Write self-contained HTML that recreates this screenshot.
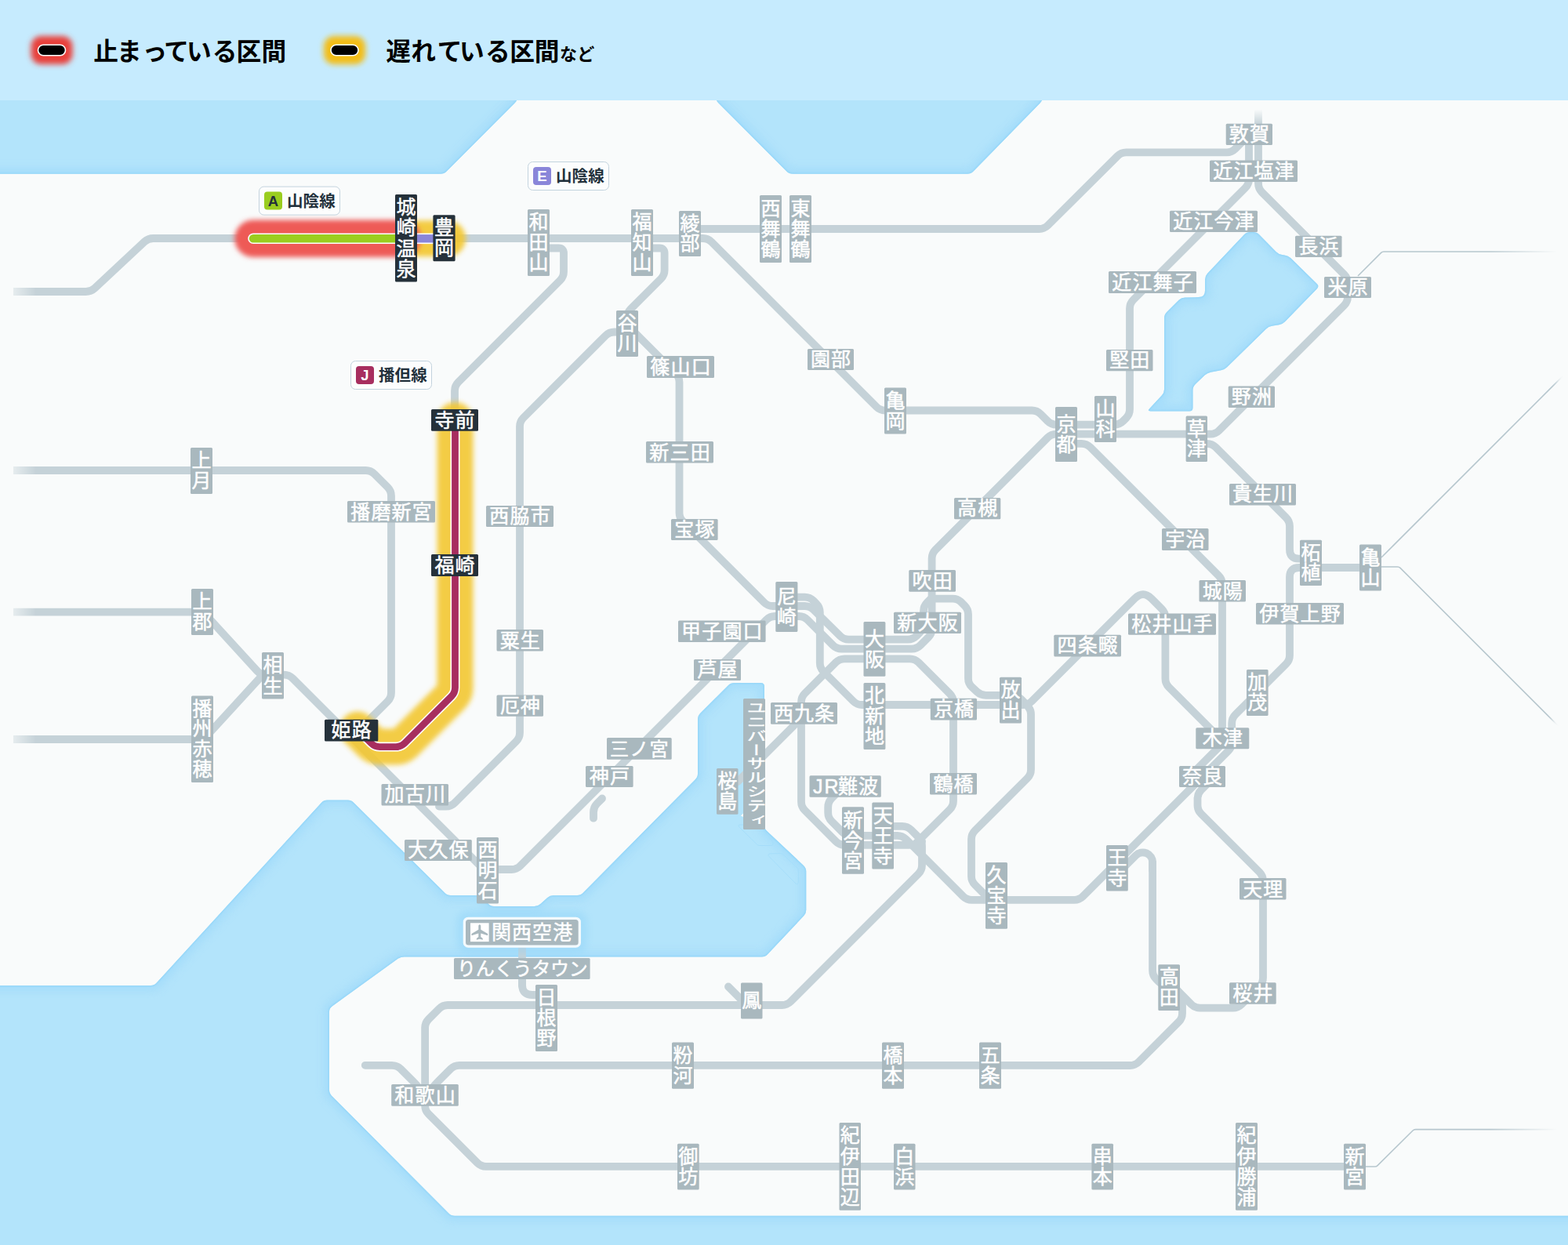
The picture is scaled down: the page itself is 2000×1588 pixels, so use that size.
<!DOCTYPE html><html><head><meta charset="utf-8"><title>map</title><style>html,body{margin:0;padding:0;background:#f9fbfb}body{width:2000px;height:1588px;overflow:hidden;font-family:"Liberation Sans",sans-serif}svg{display:block}svg text{font-family:"Liberation Sans","Noto Sans CJK JP",sans-serif}</style></head><body><svg width="2000" height="1588" viewBox="0 0 2000 1588">
<defs><filter id="b3" x="-30%" y="-50%" width="160%" height="200%"><feGaussianBlur stdDeviation="3.6"/></filter><filter id="b4" filterUnits="userSpaceOnUse" x="250" y="200" width="450" height="850"><feGaussianBlur stdDeviation="3.2"/></filter><filter id="b3s" x="-5%" y="-5%" width="110%" height="110%"><feGaussianBlur stdDeviation="2.5"/></filter><filter id="b1" x="-5%" y="-5%" width="110%" height="110%"><feGaussianBlur stdDeviation="0.8"/></filter><filter id="b5" x="-10%" y="-10%" width="120%" height="120%"><feGaussianBlur stdDeviation="5"/></filter><filter id="b8" x="-20%" y="-40%" width="140%" height="180%"><feGaussianBlur stdDeviation="7"/></filter><linearGradient id="fl" x1="0" x2="1" y1="0" y2="0"><stop offset="0" stop-color="#f9fbfb"/><stop offset="1" stop-color="#f9fbfb" stop-opacity="0"/></linearGradient><linearGradient id="fr" x1="1" x2="0" y1="0" y2="0"><stop offset="0" stop-color="#f9fbfb"/><stop offset="1" stop-color="#f9fbfb" stop-opacity="0"/></linearGradient><linearGradient id="ft" x1="0" x2="0" y1="0" y2="1"><stop offset="0" stop-color="#f9fbfb"/><stop offset="1" stop-color="#f9fbfb" stop-opacity="0"/></linearGradient><clipPath id="sc0"><path d="M-35.5 100L655.5 100Q660 100 660 104.5L660 123.5Q660 128 656.8 131.2L569.7 218.6Q566.5 221.8 562 221.8L-35.5 221.8Q-40 221.8 -40 217.3L-40 104.5Q-40 100 -35.5 100Z"/></clipPath><clipPath id="sc1"><path d="M913 123.5L913 104.5Q913 100 917.5 100L1325.5 100Q1330 100 1330 104.5L1330 123.5Q1330 128 1326.9 131.2L1241.6 218.6Q1238.5 221.8 1234 221.8L1011 221.8Q1006.5 221.8 1003.3 218.6L916.2 131.2Q913 128 913 123.5Z"/></clipPath><clipPath id="sc2"><path d="M1594.5 296L1598.5 296Q1603 296 1606.2 299.2L1627.8 321.3Q1631 324.5 1635.5 325.1L1638.5 325.4Q1643 326 1646.2 329.1L1679.8 361.9Q1683 365 1679.9 368.2L1639.1 410.3Q1636 413.5 1631.6 414.2L1622.4 415.8Q1618 416.5 1614.8 419.7L1565.2 468.3Q1562 471.5 1557.6 472.3L1544.4 474.7Q1540 475.5 1536.7 478.6L1524.8 489.9Q1521.5 493 1521.5 497.5L1521.5 520Q1521.5 524.5 1517 524.5L1467.5 524.5Q1463 524.5 1466.1 521.2L1481.9 504.3Q1485 501 1485 496.5L1485 405.5Q1485 401 1488.2 397.9L1503.8 382.6Q1507 379.5 1511.5 379.4L1528.5 379.1Q1533 379 1535 377L1535 377Q1537 375 1537 370.5L1537 356.5Q1537 352 1540.1 348.7L1586.9 299.3Q1590 296 1594.5 296Z"/></clipPath><clipPath id="sc3"><path d="M-35.5 1257L192 1257Q196.5 1257 199.5 1253.7L410 1023.8Q413 1020.5 417.5 1020.5L443.5 1020.5Q448 1020.5 451.2 1023.7L567.3 1138.8Q570.5 1142 575 1142L607.5 1142Q612 1142 615.2 1145.2L622.8 1152.8Q626 1156 630.5 1156L681.5 1156Q686 1156 689.3 1153L698.2 1145Q701.5 1142 706 1142L736 1142Q740.5 1142 743.7 1138.8L886.8 994.2Q890 991 890 986.5L890 917.5Q890 913 893.2 909.8L928.8 874.2Q932 871 936.5 871L970.5 871Q975 871 975 875.5L975 1052.5Q975 1057 978.3 1060.1L1025 1103.9Q1028.3 1107 1028.3 1111.5L1028.3 1160.5Q1028.3 1165 1025.2 1168.3L979.1 1217.2Q976 1220.5 971.5 1220.5L515.5 1220.5Q511 1220.5 507.3 1223.1L423.7 1283.4Q420 1286 420 1290.5L420 1390Q420 1394.5 423.2 1397.7L572.3 1547.5Q575.5 1550.7 580 1550.7L2035.5 1550.7Q2040 1550.7 2040 1555.2L2040 1635.5Q2040 1640 2035.5 1640L-35.5 1640Q-40 1640 -40 1635.5L-40 1261.5Q-40 1257 -35.5 1257Z"/></clipPath></defs>
<rect width="2000" height="1588" fill="#f9fbfb"/>
<g clip-path="url(#sc0)"><path d="M-35.5 100L655.5 100Q660 100 660 104.5L660 123.5Q660 128 656.8 131.2L569.7 218.6Q566.5 221.8 562 221.8L-35.5 221.8Q-40 221.8 -40 217.3L-40 104.5Q-40 100 -35.5 100Z" fill="#b3e4fb"/><path d="M-35.5 100L655.5 100Q660 100 660 104.5L660 123.5Q660 128 656.8 131.2L569.7 218.6Q566.5 221.8 562 221.8L-35.5 221.8Q-40 221.8 -40 217.3L-40 104.5Q-40 100 -35.5 100Z" fill="none" stroke="#a3dbfa" stroke-width="16" opacity="0.75" filter="url(#b5)"/><path d="M-35.5 100L655.5 100Q660 100 660 104.5L660 123.5Q660 128 656.8 131.2L569.7 218.6Q566.5 221.8 562 221.8L-35.5 221.8Q-40 221.8 -40 217.3L-40 104.5Q-40 100 -35.5 100Z" fill="none" stroke="#8fd4f8" stroke-width="2.2" filter="url(#b1)"/></g>
<g clip-path="url(#sc1)"><path d="M913 123.5L913 104.5Q913 100 917.5 100L1325.5 100Q1330 100 1330 104.5L1330 123.5Q1330 128 1326.9 131.2L1241.6 218.6Q1238.5 221.8 1234 221.8L1011 221.8Q1006.5 221.8 1003.3 218.6L916.2 131.2Q913 128 913 123.5Z" fill="#b3e4fb"/><path d="M913 123.5L913 104.5Q913 100 917.5 100L1325.5 100Q1330 100 1330 104.5L1330 123.5Q1330 128 1326.9 131.2L1241.6 218.6Q1238.5 221.8 1234 221.8L1011 221.8Q1006.5 221.8 1003.3 218.6L916.2 131.2Q913 128 913 123.5Z" fill="none" stroke="#a3dbfa" stroke-width="16" opacity="0.75" filter="url(#b5)"/><path d="M913 123.5L913 104.5Q913 100 917.5 100L1325.5 100Q1330 100 1330 104.5L1330 123.5Q1330 128 1326.9 131.2L1241.6 218.6Q1238.5 221.8 1234 221.8L1011 221.8Q1006.5 221.8 1003.3 218.6L916.2 131.2Q913 128 913 123.5Z" fill="none" stroke="#8fd4f8" stroke-width="2.2" filter="url(#b1)"/></g>
<g clip-path="url(#sc2)"><path d="M1594.5 296L1598.5 296Q1603 296 1606.2 299.2L1627.8 321.3Q1631 324.5 1635.5 325.1L1638.5 325.4Q1643 326 1646.2 329.1L1679.8 361.9Q1683 365 1679.9 368.2L1639.1 410.3Q1636 413.5 1631.6 414.2L1622.4 415.8Q1618 416.5 1614.8 419.7L1565.2 468.3Q1562 471.5 1557.6 472.3L1544.4 474.7Q1540 475.5 1536.7 478.6L1524.8 489.9Q1521.5 493 1521.5 497.5L1521.5 520Q1521.5 524.5 1517 524.5L1467.5 524.5Q1463 524.5 1466.1 521.2L1481.9 504.3Q1485 501 1485 496.5L1485 405.5Q1485 401 1488.2 397.9L1503.8 382.6Q1507 379.5 1511.5 379.4L1528.5 379.1Q1533 379 1535 377L1535 377Q1537 375 1537 370.5L1537 356.5Q1537 352 1540.1 348.7L1586.9 299.3Q1590 296 1594.5 296Z" fill="#b3e4fb"/><path d="M1594.5 296L1598.5 296Q1603 296 1606.2 299.2L1627.8 321.3Q1631 324.5 1635.5 325.1L1638.5 325.4Q1643 326 1646.2 329.1L1679.8 361.9Q1683 365 1679.9 368.2L1639.1 410.3Q1636 413.5 1631.6 414.2L1622.4 415.8Q1618 416.5 1614.8 419.7L1565.2 468.3Q1562 471.5 1557.6 472.3L1544.4 474.7Q1540 475.5 1536.7 478.6L1524.8 489.9Q1521.5 493 1521.5 497.5L1521.5 520Q1521.5 524.5 1517 524.5L1467.5 524.5Q1463 524.5 1466.1 521.2L1481.9 504.3Q1485 501 1485 496.5L1485 405.5Q1485 401 1488.2 397.9L1503.8 382.6Q1507 379.5 1511.5 379.4L1528.5 379.1Q1533 379 1535 377L1535 377Q1537 375 1537 370.5L1537 356.5Q1537 352 1540.1 348.7L1586.9 299.3Q1590 296 1594.5 296Z" fill="none" stroke="#a3dbfa" stroke-width="16" opacity="0.75" filter="url(#b5)"/><path d="M1594.5 296L1598.5 296Q1603 296 1606.2 299.2L1627.8 321.3Q1631 324.5 1635.5 325.1L1638.5 325.4Q1643 326 1646.2 329.1L1679.8 361.9Q1683 365 1679.9 368.2L1639.1 410.3Q1636 413.5 1631.6 414.2L1622.4 415.8Q1618 416.5 1614.8 419.7L1565.2 468.3Q1562 471.5 1557.6 472.3L1544.4 474.7Q1540 475.5 1536.7 478.6L1524.8 489.9Q1521.5 493 1521.5 497.5L1521.5 520Q1521.5 524.5 1517 524.5L1467.5 524.5Q1463 524.5 1466.1 521.2L1481.9 504.3Q1485 501 1485 496.5L1485 405.5Q1485 401 1488.2 397.9L1503.8 382.6Q1507 379.5 1511.5 379.4L1528.5 379.1Q1533 379 1535 377L1535 377Q1537 375 1537 370.5L1537 356.5Q1537 352 1540.1 348.7L1586.9 299.3Q1590 296 1594.5 296Z" fill="none" stroke="#8fd4f8" stroke-width="2.2" filter="url(#b1)"/></g>
<g clip-path="url(#sc3)"><path d="M-35.5 1257L192 1257Q196.5 1257 199.5 1253.7L410 1023.8Q413 1020.5 417.5 1020.5L443.5 1020.5Q448 1020.5 451.2 1023.7L567.3 1138.8Q570.5 1142 575 1142L607.5 1142Q612 1142 615.2 1145.2L622.8 1152.8Q626 1156 630.5 1156L681.5 1156Q686 1156 689.3 1153L698.2 1145Q701.5 1142 706 1142L736 1142Q740.5 1142 743.7 1138.8L886.8 994.2Q890 991 890 986.5L890 917.5Q890 913 893.2 909.8L928.8 874.2Q932 871 936.5 871L970.5 871Q975 871 975 875.5L975 1052.5Q975 1057 978.3 1060.1L1025 1103.9Q1028.3 1107 1028.3 1111.5L1028.3 1160.5Q1028.3 1165 1025.2 1168.3L979.1 1217.2Q976 1220.5 971.5 1220.5L515.5 1220.5Q511 1220.5 507.3 1223.1L423.7 1283.4Q420 1286 420 1290.5L420 1390Q420 1394.5 423.2 1397.7L572.3 1547.5Q575.5 1550.7 580 1550.7L2035.5 1550.7Q2040 1550.7 2040 1555.2L2040 1635.5Q2040 1640 2035.5 1640L-35.5 1640Q-40 1640 -40 1635.5L-40 1261.5Q-40 1257 -35.5 1257Z" fill="#b3e4fb"/><path d="M-35.5 1257L192 1257Q196.5 1257 199.5 1253.7L410 1023.8Q413 1020.5 417.5 1020.5L443.5 1020.5Q448 1020.5 451.2 1023.7L567.3 1138.8Q570.5 1142 575 1142L607.5 1142Q612 1142 615.2 1145.2L622.8 1152.8Q626 1156 630.5 1156L681.5 1156Q686 1156 689.3 1153L698.2 1145Q701.5 1142 706 1142L736 1142Q740.5 1142 743.7 1138.8L886.8 994.2Q890 991 890 986.5L890 917.5Q890 913 893.2 909.8L928.8 874.2Q932 871 936.5 871L970.5 871Q975 871 975 875.5L975 1052.5Q975 1057 978.3 1060.1L1025 1103.9Q1028.3 1107 1028.3 1111.5L1028.3 1160.5Q1028.3 1165 1025.2 1168.3L979.1 1217.2Q976 1220.5 971.5 1220.5L515.5 1220.5Q511 1220.5 507.3 1223.1L423.7 1283.4Q420 1286 420 1290.5L420 1390Q420 1394.5 423.2 1397.7L572.3 1547.5Q575.5 1550.7 580 1550.7L2035.5 1550.7Q2040 1550.7 2040 1555.2L2040 1635.5Q2040 1640 2035.5 1640L-35.5 1640Q-40 1640 -40 1635.5L-40 1261.5Q-40 1257 -35.5 1257Z" fill="none" stroke="#a3dbfa" stroke-width="16" opacity="0.75" filter="url(#b5)"/><path d="M-35.5 1257L192 1257Q196.5 1257 199.5 1253.7L410 1023.8Q413 1020.5 417.5 1020.5L443.5 1020.5Q448 1020.5 451.2 1023.7L567.3 1138.8Q570.5 1142 575 1142L607.5 1142Q612 1142 615.2 1145.2L622.8 1152.8Q626 1156 630.5 1156L681.5 1156Q686 1156 689.3 1153L698.2 1145Q701.5 1142 706 1142L736 1142Q740.5 1142 743.7 1138.8L886.8 994.2Q890 991 890 986.5L890 917.5Q890 913 893.2 909.8L928.8 874.2Q932 871 936.5 871L970.5 871Q975 871 975 875.5L975 1052.5Q975 1057 978.3 1060.1L1025 1103.9Q1028.3 1107 1028.3 1111.5L1028.3 1160.5Q1028.3 1165 1025.2 1168.3L979.1 1217.2Q976 1220.5 971.5 1220.5L515.5 1220.5Q511 1220.5 507.3 1223.1L423.7 1283.4Q420 1286 420 1290.5L420 1390Q420 1394.5 423.2 1397.7L572.3 1547.5Q575.5 1550.7 580 1550.7L2035.5 1550.7Q2040 1550.7 2040 1555.2L2040 1635.5Q2040 1640 2035.5 1640L-35.5 1640Q-40 1640 -40 1635.5L-40 1261.5Q-40 1257 -35.5 1257Z" fill="none" stroke="#8fd4f8" stroke-width="2.2" filter="url(#b1)"/></g>
<g fill="none" stroke="#a4ddfa" stroke-width="1" opacity="0.9"><path d="M944 1052L966 1052Q968 1052 969.3 1053.5L984.7 1072.5Q986 1074 986 1076L986 1076.5Q986 1078.5 984 1078.5L969 1078.5Q967 1078.5 965.6 1077.1L943.4 1055.4Q942 1054 942 1053L942 1053Q942 1052 944 1052Z"/><path d="M982 1088.9L995.5 1088.6Q997.5 1088.5 998.9 1089.9L1016.9 1107.1Q1018.3 1108.5 1018.3 1110.5L1018.5 1124Q1018.5 1126 1017.5 1127.2L1017.5 1127.2Q1016.5 1128.5 1015.1 1127.1L981.4 1092.9Q980 1091.5 980 1090.2L980 1090.2Q980 1089 982 1088.9Z"/></g>
<path d="M948.2 1037.3L948.2 1042L944.8 1040.4Z" fill="#f9fbfb"/>
<rect width="2000" height="128" fill="#c6ebfe"/>
<g fill="none" stroke="#c5d2d8" stroke-width="9.8" stroke-linecap="round" stroke-linejoin="round">
<path d="M10 372L109.5 372Q116 372 120.8 367.6L184.2 308.4Q189 304 195.5 304L330 304"/>
<path d="M570 304L896.5 304Q903 304 907.6 308.6L1117.9 518.9Q1122.5 523.5 1129 523.5L1316.2 523.5Q1322.7 523.5 1327.3 528.1L1336.2 537Q1340.8 541.6 1347.3 541.6L1421.5 541.6Q1428 541.6 1432.6 537L1436.4 533.2Q1441 528.6 1441 522.1L1441 393.5Q1441 387 1445.6 382.4L1588.4 239.6Q1593 235 1593 228.5L1593 180"/>
<path d="M880 292L1325.5 292Q1332 292 1336.6 287.4L1425.4 199Q1430 194.4 1436.5 194.4L1564.5 194.4Q1571 194.4 1575.6 189.8L1586 179.4"/>
<path d="M1605 134L1605 234.1Q1605 240.6 1609.6 245.2L1714.4 350Q1719 354.6 1719 361.1L1719 378.5Q1719 385 1714.4 389.6L1554.9 549.1Q1550.3 553.7 1543.8 553.7L1347.3 553.7Q1340.8 553.7 1336.2 558.3L1193.2 701.3Q1188.6 705.9 1188.6 712.4L1188.6 801.9Q1188.6 808.4 1184 813L1174 823Q1169.4 827.6 1162.9 827.6L1073.5 827.6Q1067 827.6 1062.4 823L1030 790.6Q1025.4 786 1018.9 786L988.5 786Q982 786 977.4 790.6L663.6 1104.4Q659 1109 652.5 1109L625 1109"/>
<path d="M690 316.5L712.5 316.5Q719 316.5 719 323L719 346.5Q719 353 714.4 357.6L584.6 487.4Q580 492 580 498.5L580 530"/>
<path d="M822 316.5L841.1 316.5Q847.6 316.5 847.6 323L847.6 344.5Q847.6 351 843 355.6L804.6 394Q800 398.6 800 405.1L800 408Q800 414.5 804.6 419.1L861.9 476.4Q866.5 481 866.5 487.5L866.5 653.9Q866.5 660.4 871.1 665L974.6 768.4Q979.2 773 985.7 773L1026.5 773Q1033 773 1037.6 777.6L1071.4 811Q1076 815.6 1082.5 815.6L1158 815.6Q1164.5 815.6 1169.1 811L1173.4 806.6Q1178 802 1178 795.5L1178 779.5Q1178 773 1182.6 768.4L1188.6 762.4"/>
<path d="M800 423.5L783.5 423.5Q777 423.5 772.4 428.1L667.6 532.9Q663 537.5 663 544L663 934.5Q663 941 658.4 945.6L580 1024Q575.4 1028.6 568.9 1028.6L560 1028.6"/>
<path d="M10 600L466.5 600Q473 600 477.6 604.6L494.4 621.4Q499 626 499 632.5L499 883.5Q499 890 494.4 894.6L465 924"/>
<path d="M10 780.7L252.8 780.7Q259.3 780.7 263.7 785.5L328.1 855.9Q332.5 860.7 339 860.7L362.2 860.7Q368.7 860.7 373.3 865.3L612.4 1104.4Q617 1109 623.5 1109L630 1109"/>
<path d="M10 943L253.2 943Q259.7 943 264.1 938.2L330.1 866.3Q334.5 861.5 339.8 861.2L345 861"/>
<path d="M1010 761.7L1026.5 761.7Q1033 761.7 1037.6 766.3L1041.2 769.9Q1045.8 774.5 1045.8 781L1045.8 845.5Q1045.8 852 1050.4 856.6L1088.4 894.4Q1093 899 1099.5 899L1305 899Q1311.5 899 1316.1 894.4L1447.4 763.4Q1458 752.8 1468.6 763.4L1481.8 776.6Q1486.4 781.2 1486.4 787.7L1486.4 865.5Q1486.4 872 1491 876.6L1546 931.6"/>
<path d="M1188.6 763.7L1215.1 763.7Q1221.6 763.7 1226.2 768.3L1230.4 772.4Q1235 777 1235 783.5L1235 865.5Q1235 872 1239.8 876.4L1246.2 882.4Q1251 886.8 1257.5 886.8L1291 886.8Q1297.5 886.8 1302.1 891.4L1303.9 893.2Q1308.5 897.8 1311.8 901.9L1311.9 902.1Q1315 906 1315 911L1315 981.5Q1315 988 1310.4 992.6L1243.6 1059.4Q1239 1064 1239 1070.5L1239 1117.5Q1239 1124 1243.6 1128.6L1262.8 1147.8"/>
<path d="M1176 1073L1171 1075.4Q1166 1077.8 1159.5 1077.8L1077.3 1077.8Q1070.8 1077.8 1066.2 1073.2L1026.6 1033.6Q1022 1029 1022 1022.5L1022 895.5Q1022 889 1026.6 884.4L1066.1 844.9Q1070.7 840.3 1077.2 840.3L1160.5 840.3Q1167 840.3 1171.6 844.9L1211.4 884.7Q1216 889.3 1216 895.8L1216 1021.5Q1216 1028 1211.4 1032.6L1166.2 1077.8"/>
<path d="M1022 905L1022 910.5Q1022 916 1017.4 920.6L941 997"/>
<path d="M1066 1013L1060.7 1018.4Q1056.2 1023 1056.2 1029.5L1056.2 1036.5Q1056.2 1043 1060.8 1047.6L1074.4 1061.2Q1079 1065.8 1085.5 1065.8L1144.5 1065.8Q1151 1065.8 1155.6 1070.4L1228.4 1143.2Q1233 1147.8 1239.5 1147.8L1370.2 1147.8Q1376.7 1147.8 1381.3 1143.2L1566.6 957.9Q1571.2 953.3 1571.2 946.8L1571.2 922.5Q1571.2 916 1575.8 911.4L1640.4 846.9Q1645 842.3 1645 835.8L1645 736Q1645 724 1657 724L1740 724"/>
<path d="M1135 1053.8L1150.9 1053.8Q1157.4 1053.8 1162 1058.4L1171.4 1067.8Q1176 1072.4 1176 1078.9L1176 1103.5Q1176 1110 1171.4 1114.6L1008.6 1277.4Q1004 1282 997.5 1282L571.2 1282Q564.7 1282 560.1 1286.6L546.7 1300Q542.1 1304.6 542.1 1311.1L542.1 1409.9Q542.1 1416.4 546.7 1421L608.9 1483.2Q613.5 1487.8 620 1487.8L1720 1487.8"/>
<path d="M1360 565.8L1379.5 565.8Q1386 565.8 1390.6 570.4L1554.4 734.2Q1559 738.8 1559 745.3L1559 942.1Q1559 948.6 1554.4 953.2L1522 985.6"/>
<path d="M1530 565.8L1539.5 565.8Q1546 565.8 1550.6 570.4L1640.4 660.2Q1645 664.8 1645 671.3L1645 700.7Q1645 712.7 1656.5 712.7L1668 712.7"/>
<path d="M1546 993.7L1532.1 1007.6Q1527.5 1012.2 1527.5 1018.7L1527.5 1027Q1527.5 1033.5 1532.1 1038.1L1606.4 1112.4Q1611 1117 1611 1123.5L1611 1247.2Q1611 1253.7 1606.4 1258.3L1583.6 1281.1Q1579 1285.7 1572.5 1285.7L1530.7 1285.7Q1524.2 1285.7 1519.6 1281.1L1500.2 1261.7Q1495.6 1257.1 1489.3 1257.1L1489.3 1257.1Q1483 1257.1 1478.4 1252.5L1474.7 1248.8Q1470.1 1244.2 1470.1 1237.7L1470.1 1100"/>
<path d="M1495 1256.5L1501.5 1263Q1508 1269.5 1508 1281.5L1508 1292.4Q1508 1298.9 1503.4 1303.5L1452.5 1354.4Q1447.9 1359 1441.4 1359L585.9 1358.8Q579.4 1358.8 574.8 1363.4L559.8 1378.4Q555.2 1383 552.6 1386.5L550 1390"/>
<path d="M465.8 1358.8L500 1358.8Q506.5 1358.8 511.1 1363.4L526.1 1378.4Q530.7 1383 533.4 1386.5L536 1390"/>
<path d="M666 1200L666 1257"/>
<path d="M768 1018.5L761.6 1024.9Q757 1029.5 757 1036L757 1043.7"/>
<path d="M929 1258.5L950 1279.5"/>
<path d="M1425 1114.8L1448.7 1091.1A12.5 12.5 0 0 1 1470.1 1100L1470.1 1110"/>
<path d="M666 1249L666 1256Q666 1269 679 1269L690 1269"/>
</g>
<g fill="none" stroke="#b7c7ce" stroke-width="1.6">
<path d="M1732 352L1761.6 322.4Q1763 321 1765 321L1990 321"/>
<path d="M1762 711L2005 468"/>
<path d="M1760 723L1782.6 723Q1784.6 723 1786 724.4L1996 934.4"/>
<path d="M1742 1488L1753.7 1488Q1755.7 1488 1757.1 1486.6L1802.1 1442Q1803.5 1440.6 1805.5 1440.6L1990 1440.6"/>
</g>
<rect x="0" y="365.0" width="46" height="14" fill="url(#fl)"/>
<rect x="0" y="365.0" width="17" height="14" fill="#f9fbfb"/>
<rect x="0" y="593.0" width="46" height="14" fill="url(#fl)"/>
<rect x="0" y="593.0" width="17" height="14" fill="#f9fbfb"/>
<rect x="0" y="773.7" width="46" height="14" fill="url(#fl)"/>
<rect x="0" y="773.7" width="17" height="14" fill="#f9fbfb"/>
<rect x="0" y="936.0" width="46" height="14" fill="url(#fl)"/>
<rect x="0" y="936.0" width="17" height="14" fill="#f9fbfb"/>
<rect x="1597" y="128" width="16" height="12" fill="#f9fbfb"/><rect x="1597" y="139.5" width="16" height="19" fill="url(#ft)"/>
<rect x="1900" y="318.0" width="86" height="6" fill="url(#fr)"/><rect x="1985" y="318.0" width="15" height="6" fill="#f9fbfb"/>
<rect x="1900" y="1437.6" width="86" height="6" fill="url(#fr)"/><rect x="1985" y="1437.6" width="15" height="6" fill="#f9fbfb"/>
<circle cx="1996" cy="934" r="22" fill="#f9fbfb" filter="url(#b5)"/>
<circle cx="2000" cy="470" r="22" fill="#f9fbfb" filter="url(#b5)"/>
<g fill="none" stroke-linecap="round" stroke-linejoin="round">
<path d="M534 304.3L571 304.3" stroke="#f3c732" stroke-width="46" opacity="0.92" filter="url(#b4)"/>
<path d="M323 304.3L513 304.3" stroke="#ee5a56" stroke-width="47.5" filter="url(#b4)"/>
<path d="M580.5 536L580.5 877.1Q580.5 883.6 575.9 888.2L516.1 948Q511.5 952.6 505 952.6L484.5 952.6Q478 952.6 473.4 948L456 930.6" stroke="#f3c732" stroke-width="46" opacity="0.9" filter="url(#b4)"/>
</g>
<g fill="none" stroke-linecap="round" stroke-linejoin="round">
<path d="M323 304.3L520 304.3" stroke="#fff" stroke-width="13.6"/><path d="M323 304.3L520 304.3" stroke="#9acd1f" stroke-width="10.4"/>
<path d="M530 304.3L556 304.3" stroke="#fff" stroke-width="13.6" stroke-linecap="butt"/><path d="M530 304.3L556 304.3" stroke="#8a86d9" stroke-width="10.4" stroke-linecap="butt"/>
<path d="M580.5 536L580.5 877.1Q580.5 883.6 575.9 888.2L516.1 948Q511.5 952.6 505 952.6L484.5 952.6Q478 952.6 473.4 948L456 930.6" stroke="#fff" stroke-width="12"/><path d="M580.5 536L580.5 877.1Q580.5 883.6 575.9 888.2L516.1 948Q511.5 952.6 505 952.6L484.5 952.6Q478 952.6 473.4 948L456 930.6" stroke="#a72e5f" stroke-width="8.8"/>
</g>
<rect x="673.0" y="267.0" width="28.0" height="85.0" rx="1.5" fill="#a9b8be"/>
<rect x="805.0" y="267.0" width="28.0" height="85.0" rx="1.5" fill="#a9b8be"/>
<rect x="866.0" y="269.0" width="28.0" height="58.0" rx="1.5" fill="#a9b8be"/>
<rect x="969.0" y="249.0" width="28.0" height="86.0" rx="1.5" fill="#a9b8be"/>
<rect x="1007.0" y="249.0" width="28.0" height="86.0" rx="1.5" fill="#a9b8be"/>
<rect x="1563.7" y="157.7" width="59.3" height="27.3" rx="1.5" fill="#a9b8be"/>
<rect x="1543.0" y="204.4" width="112.0" height="27.6" rx="1.5" fill="#a9b8be"/>
<rect x="1492.0" y="268.8" width="112.0" height="27.2" rx="1.5" fill="#a9b8be"/>
<rect x="1652.0" y="300.7" width="59.5" height="27.3" rx="1.5" fill="#a9b8be"/>
<rect x="1414.0" y="346.0" width="112.0" height="28.0" rx="1.5" fill="#a9b8be"/>
<rect x="1689.0" y="353.0" width="60.0" height="27.0" rx="1.5" fill="#a9b8be"/>
<rect x="1411.0" y="446.0" width="59.5" height="27.3" rx="1.5" fill="#a9b8be"/>
<rect x="1566.7" y="492.5" width="59.3" height="27.5" rx="1.5" fill="#a9b8be"/>
<rect x="786.0" y="396.0" width="28.0" height="59.0" rx="1.5" fill="#a9b8be"/>
<rect x="825.0" y="454.0" width="86.0" height="28.0" rx="1.5" fill="#a9b8be"/>
<rect x="1030.0" y="445.0" width="59.0" height="27.0" rx="1.5" fill="#a9b8be"/>
<rect x="1128.0" y="494.5" width="28.0" height="59.0" rx="1.5" fill="#a9b8be"/>
<rect x="1346.0" y="519.0" width="28.0" height="70.0" rx="1.5" fill="#a9b8be"/>
<rect x="1396.0" y="505.0" width="28.0" height="59.0" rx="1.5" fill="#a9b8be"/>
<rect x="1512.6" y="530.6" width="27.4" height="58.4" rx="1.5" fill="#a9b8be"/>
<rect x="824.0" y="563.0" width="86.0" height="27.5" rx="1.5" fill="#a9b8be"/>
<rect x="243.0" y="571.0" width="28.0" height="59.0" rx="1.5" fill="#a9b8be"/>
<rect x="443.0" y="639.0" width="112.0" height="27.6" rx="1.5" fill="#a9b8be"/>
<rect x="620.0" y="645.0" width="86.0" height="27.0" rx="1.5" fill="#a9b8be"/>
<rect x="856.0" y="662.0" width="59.6" height="27.0" rx="1.5" fill="#a9b8be"/>
<rect x="1217.0" y="635.0" width="59.3" height="27.3" rx="1.5" fill="#a9b8be"/>
<rect x="1568.0" y="617.0" width="85.0" height="27.4" rx="1.5" fill="#a9b8be"/>
<rect x="1482.0" y="674.0" width="59.5" height="28.0" rx="1.5" fill="#a9b8be"/>
<rect x="1658.0" y="688.8" width="28.0" height="58.2" rx="1.5" fill="#a9b8be"/>
<rect x="1734.0" y="694.5" width="28.0" height="59.0" rx="1.5" fill="#a9b8be"/>
<rect x="1159.3" y="727.0" width="59.7" height="27.7" rx="1.5" fill="#a9b8be"/>
<rect x="1529.5" y="740.0" width="59.5" height="27.6" rx="1.5" fill="#a9b8be"/>
<rect x="244.0" y="751.0" width="28.0" height="59.0" rx="1.5" fill="#a9b8be"/>
<rect x="989.3" y="742.0" width="28.1" height="64.0" rx="1.5" fill="#a9b8be"/>
<rect x="1140.0" y="780.8" width="86.0" height="27.2" rx="1.5" fill="#a9b8be"/>
<rect x="1602.0" y="769.0" width="112.0" height="27.6" rx="1.5" fill="#a9b8be"/>
<rect x="1439.0" y="782.5" width="112.0" height="27.2" rx="1.5" fill="#a9b8be"/>
<rect x="865.0" y="791.5" width="111.6" height="27.5" rx="1.5" fill="#a9b8be"/>
<rect x="1101.5" y="793.0" width="27.9" height="69.8" rx="1.5" fill="#a9b8be"/>
<rect x="633.5" y="803.0" width="59.5" height="27.6" rx="1.5" fill="#a9b8be"/>
<rect x="1344.3" y="809.7" width="85.7" height="27.7" rx="1.5" fill="#a9b8be"/>
<rect x="334.0" y="832.0" width="28.0" height="59.5" rx="1.5" fill="#a9b8be"/>
<rect x="885.0" y="841.0" width="60.0" height="27.0" rx="1.5" fill="#a9b8be"/>
<rect x="1590.0" y="854.0" width="27.6" height="59.0" rx="1.5" fill="#a9b8be"/>
<rect x="1275.0" y="863.7" width="28.0" height="58.7" rx="1.5" fill="#a9b8be"/>
<rect x="1101.5" y="871.0" width="27.9" height="85.0" rx="1.5" fill="#a9b8be"/>
<rect x="633.5" y="886.5" width="59.5" height="27.2" rx="1.5" fill="#a9b8be"/>
<rect x="244.0" y="887.5" width="28.0" height="110.5" rx="1.5" fill="#a9b8be"/>
<rect x="1186.8" y="890.7" width="59.2" height="27.7" rx="1.5" fill="#a9b8be"/>
<rect x="983.0" y="896.0" width="85.0" height="27.7" rx="1.5" fill="#a9b8be"/>
<rect x="1525.3" y="928.2" width="68.0" height="27.0" rx="1.5" fill="#a9b8be"/>
<rect x="774.0" y="941.0" width="82.7" height="27.7" rx="1.5" fill="#a9b8be"/>
<rect x="747.0" y="977.0" width="60.6" height="27.0" rx="1.5" fill="#a9b8be"/>
<rect x="1504.0" y="977.0" width="59.0" height="27.0" rx="1.5" fill="#a9b8be"/>
<rect x="914.0" y="980.0" width="27.5" height="58.7" rx="1.5" fill="#a9b8be"/>
<rect x="1186.0" y="986.0" width="60.0" height="27.5" rx="1.5" fill="#a9b8be"/>
<rect x="486.5" y="1000.0" width="85.5" height="27.4" rx="1.5" fill="#a9b8be"/>
<rect x="1112.3" y="1023.4" width="27.7" height="85.2" rx="1.5" fill="#a9b8be"/>
<rect x="1074.0" y="1029.3" width="28.0" height="85.4" rx="1.5" fill="#a9b8be"/>
<rect x="608.0" y="1068.0" width="28.0" height="84.5" rx="1.5" fill="#a9b8be"/>
<rect x="516.0" y="1071.0" width="85.8" height="27.0" rx="1.5" fill="#a9b8be"/>
<rect x="1257.0" y="1100.0" width="28.0" height="84.8" rx="1.5" fill="#a9b8be"/>
<rect x="1411.0" y="1078.0" width="27.8" height="58.6" rx="1.5" fill="#a9b8be"/>
<rect x="1581.0" y="1120.0" width="59.5" height="27.5" rx="1.5" fill="#a9b8be"/>
<rect x="579.0" y="1222.0" width="173.6" height="27.0" rx="1.5" fill="#a9b8be"/>
<rect x="1477.3" y="1230.3" width="27.7" height="58.6" rx="1.5" fill="#a9b8be"/>
<rect x="1568.0" y="1253.2" width="59.7" height="27.5" rx="1.5" fill="#a9b8be"/>
<rect x="945.0" y="1253.5" width="27.5" height="46.1" rx="1.5" fill="#a9b8be"/>
<rect x="683.0" y="1256.0" width="28.0" height="85.0" rx="1.5" fill="#a9b8be"/>
<rect x="857.0" y="1329.6" width="28.0" height="59.2" rx="1.5" fill="#a9b8be"/>
<rect x="1125.0" y="1329.6" width="28.0" height="59.2" rx="1.5" fill="#a9b8be"/>
<rect x="1249.0" y="1329.6" width="28.0" height="59.2" rx="1.5" fill="#a9b8be"/>
<rect x="499.2" y="1383.0" width="85.6" height="27.7" rx="1.5" fill="#a9b8be"/>
<rect x="1070.5" y="1432.0" width="27.5" height="111.7" rx="1.5" fill="#a9b8be"/>
<rect x="1576.0" y="1432.0" width="28.0" height="111.7" rx="1.5" fill="#a9b8be"/>
<rect x="864.0" y="1458.8" width="27.7" height="58.7" rx="1.5" fill="#a9b8be"/>
<rect x="1140.0" y="1458.8" width="27.5" height="58.7" rx="1.5" fill="#a9b8be"/>
<rect x="1392.4" y="1458.8" width="27.6" height="58.7" rx="1.5" fill="#a9b8be"/>
<rect x="1714.0" y="1458.8" width="28.0" height="58.7" rx="1.5" fill="#a9b8be"/>
<rect x="948.0" y="891.0" width="28.0" height="167.0" rx="1.5" fill="#a9b8be"/>
<rect x="1032.5" y="989.2" width="91.3" height="27.5" rx="1.5" fill="#a9b8be"/>
<g fill="#fff" stroke="#fff" stroke-width="0.5" stroke-linejoin="round" font-size="25">
<text x="674.5 674.5 674.5" y="292.18 318.18 344.18">和田山</text>
<text x="806.5 806.5 806.5" y="292.18 318.18 344.18">福知山</text>
<text x="867.5 867.5" y="293.77 319.27">綾部</text>
<text x="970.5 970.5 970.5" y="274.55 300.75 326.95">西舞鶴</text>
<text x="1008.5 1008.5 1008.5" y="274.55 300.75 326.95">東舞鶴</text>
<text x="1567.8 1593.95" y="180.1">敦賀</text>
<text x="1547.2 1573.4 1599.6 1625.8" y="226.95">近江塩津</text>
<text x="1496.2 1522.4 1548.6 1574.8" y="291.15">近江今津</text>
<text x="1656.15 1682.35" y="323.1">長浜</text>
<text x="1418.2 1444.4 1470.6 1496.8" y="368.75">近江舞子</text>
<text x="1693.4 1719.6" y="375.25">米原</text>
<text x="1415.15 1441.35" y="468.4">堅田</text>
<text x="1570.8 1596.95" y="515">野洲</text>
<text x="787.5 787.5" y="421.18 447.18">谷川</text>
<text x="829.3 855.5 881.7" y="476.75">篠山口</text>
<text x="1034.1 1060.1" y="467.25">園部</text>
<text x="1129.5 1129.5" y="519.68 545.68">亀岡</text>
<text x="1347.5 1347.5" y="549.65 575.85">京都</text>
<text x="1397.5 1397.5" y="530.18 556.18">山科</text>
<text x="1513.8 1513.8" y="555.53 581.23">草津</text>
<text x="828.3 854.5 880.7" y="585.5">新三田</text>
<text x="244.5 244.5" y="596.18 622.18">上月</text>
<text x="447.2 473.4 499.6 525.8" y="661.55">播磨新宮</text>
<text x="624.3 650.5 676.7" y="667.25">西脇市</text>
<text x="860.2 886.4" y="684.25">宝塚</text>
<text x="1221.1 1247.25" y="657.4">高槻</text>
<text x="1572.1 1598.1 1624.1" y="639.45">貴生川</text>
<text x="1486.15 1512.35" y="696.75">宇治</text>
<text x="1659.5 1659.5" y="713.65 739.25">柘植</text>
<text x="1735.5 1735.5" y="719.68 745.68">亀山</text>
<text x="1163.55 1189.75" y="749.6">吹田</text>
<text x="1533.65 1559.85" y="762.55">城陽</text>
<text x="245.5 245.5" y="776.18 802.18">上郡</text>
<text x="990.85 990.85" y="769.65 795.85">尼崎</text>
<text x="1144.3 1170.5 1196.7" y="803.15">新大阪</text>
<text x="1606.2 1632.4 1658.6 1684.8" y="791.55">伊賀上野</text>
<text x="1443.2 1469.4 1495.6 1521.8" y="804.85">松井山手</text>
<text x="869.1 895.25 921.4 947.55" y="814">甲子園口</text>
<text x="1102.95 1102.95" y="823.55 849.75">大阪</text>
<text x="637.65 663.85" y="825.55">粟生</text>
<text x="1348.45 1374.65 1400.85" y="832.3">四条畷</text>
<text x="335.5 335.5" y="857.4 883.6">相生</text>
<text x="889.4 915.6" y="863.25">芦屋</text>
<text x="1591.3 1591.3" y="879.18 905.18">加茂</text>
<text x="1276.5 1276.5" y="888.76 914.61">放出</text>
<text x="1102.95 1102.95 1102.95" y="896.18 922.18 948.18">北新地</text>
<text x="637.65 663.85" y="908.85">厄神</text>
<text x="245.5 245.5 245.5 245.5" y="912.58 938.45 964.33 990.2">播州赤穂</text>
<text x="1190.9 1217" y="913.3">京橋</text>
<text x="987.1 1013.1 1039.1" y="918.6">西九条</text>
<text x="1533.7 1559.9" y="950.45">木津</text>
<text x="778.08 803.31 828.54" y="963.6" font-size="24.1">三ノ宮</text>
<text x="751.7 777.9" y="999.25">神戸</text>
<text x="1508.1 1534.1" y="999.25">奈良</text>
<text x="915.25 915.25" y="1005.06 1030.91">桜島</text>
<text x="1190.4 1216.6" y="1008.5">鶴橋</text>
<text x="490.6 516.77 542.93" y="1022.45">加古川</text>
<text x="1113.65 1113.65 1113.65" y="1048.64 1074.71 1100.77">天王寺</text>
<text x="1075.5 1075.5 1075.5" y="1054.59 1080.73 1106.86">新今宮</text>
<text x="609.5 609.5 609.5" y="1093.04 1118.88 1144.71">西明石</text>
<text x="520.2 546.4 572.6" y="1093.25">大久保</text>
<text x="1258.5 1258.5 1258.5" y="1125.13 1151.06 1176.99">久宝寺</text>
<text x="1412.4 1412.4" y="1103.02 1128.82">王寺</text>
<text x="1585.15 1611.35" y="1142.5">天理</text>
<text x="583.05 606.85 630.65 654.45 678.25 702.05 725.85" y="1244.25" font-size="24">りんくうタウン</text>
<text x="1478.65 1478.65" y="1255.32 1281.12">高田</text>
<text x="1572.25 1598.45" y="1275.7">桜井</text>
<text x="946.25" y="1285.3">鳳</text>
<text x="684.5 684.5 684.5" y="1281.18 1307.18 1333.18">日根野</text>
<text x="858.5 858.5" y="1354.87 1380.97">粉河</text>
<text x="1126.5 1126.5" y="1354.87 1380.97">橋本</text>
<text x="1250.5 1250.5" y="1354.87 1380.97">五条</text>
<text x="503.3 529.5 555.7" y="1405.6">和歌山</text>
<text x="1071.75 1071.75 1071.75 1071.75" y="1457.33 1483.5 1509.68 1535.85">紀伊田辺</text>
<text x="1577.5 1577.5 1577.5 1577.5" y="1457.33 1483.5 1509.68 1535.85">紀伊勝浦</text>
<text x="865.35 865.35" y="1483.86 1509.71">御坊</text>
<text x="1141.25 1141.25" y="1483.86 1509.71">白浜</text>
<text x="1393.7 1393.7" y="1483.86 1509.71">串本</text>
<text x="1715.5 1715.5" y="1483.86 1509.71">新宮</text>
<text transform="translate(962 894.4) scale(1 0.6784)" x="0" y="0" writing-mode="vertical-rl" letter-spacing="1.2">ユニバーサルシティ</text>
<text x="1037 1051.53 1069.03 1095.03" y="1011.7">JR難波</text>
</g>
<rect x="583" y="1162" width="166" height="54" rx="14" fill="#8fd3f8" opacity="0.45" filter="url(#b5)"/>
<rect x="590.7" y="1169.7" width="150.3" height="39" rx="6.5" fill="#f3fafe"/><rect x="594" y="1173" width="143.7" height="32.4" rx="3.5" fill="#a9b8be"/>
<rect x="600" y="1177.3" width="23.6" height="23.8" fill="#fff"/>
<path transform="translate(611.8 1189.2) scale(0.94)" fill="#a9b8be" d="M0-10.5c1 0 1.6 1 1.6 2.4v4.3l9.4 5.6v2.4l-9.4-2.9v5l2.6 2v1.9l-4.2-1.2-4.2 1.2v-1.9l2.6-2v-5l-9.4 2.9v-2.4l9.4-5.6v-4.3c0-1.4.6-2.4 1.6-2.4z"/>
<g fill="#fff" stroke="#fff" stroke-width="0.5" stroke-linejoin="round" font-size="25"><text x="626.9 653 679.1 705.2" y="1198.15">関西空港</text></g>
<rect x="504.0" y="248.0" width="28.0" height="111.5" rx="1.5" fill="#25313a"/>
<rect x="552.4" y="274.2" width="28.2" height="59.0" rx="1.5" fill="#25313a"/>
<rect x="550.0" y="522.0" width="60.0" height="27.7" rx="1.5" fill="#25313a"/>
<rect x="550.0" y="707.0" width="60.0" height="28.0" rx="1.5" fill="#25313a"/>
<rect x="414.0" y="917.8" width="68.3" height="27.7" rx="1.5" fill="#25313a"/>
<g fill="#fff" stroke="#fff" stroke-width="0.5" stroke-linejoin="round" font-size="25">
<text x="505.5 505.5 505.5 505.5" y="273.29 299.41 325.54 351.66">城崎温泉</text>
<text x="554 554" y="299.38 325.38">豊岡</text>
<text x="554.4 580.6" y="544.6">寺前</text>
<text x="554.4 580.6" y="729.75">福崎</text>
<text x="422.55 448.75" y="940.4">姫路</text>
</g>
<rect x="330.5" y="238.1" width="103.0" height="36.0" rx="6" fill="#fcfdfd" stroke="#c3d3de" stroke-width="1"/><rect x="337.0" y="244.6" width="23" height="23" rx="4" fill="#9acd1f"/><text x="348.5" y="262.85" font-size="18.5" font-weight="bold" text-anchor="middle" fill="#24303a">A</text><text x="366 386.6 407.2" y="263.89" font-size="20.5" font-weight="bold" fill="#22303b">山陰線</text>
<rect x="673.5" y="206.5" width="103.0" height="36.0" rx="6" fill="#fcfdfd" stroke="#c3d3de" stroke-width="1"/><rect x="680.0" y="213.0" width="23" height="23" rx="4" fill="#8a86d9"/><text x="691.5" y="231.25" font-size="18.5" font-weight="bold" text-anchor="middle" fill="#fff">E</text><text x="709 729.6 750.2" y="232.29" font-size="20.5" font-weight="bold" fill="#22303b">山陰線</text>
<rect x="447.5" y="460.5" width="103.0" height="36.0" rx="6" fill="#fcfdfd" stroke="#c3d3de" stroke-width="1"/><rect x="454.0" y="467.0" width="23" height="23" rx="4" fill="#a72e5f"/><text x="465.5" y="485.25" font-size="18.5" font-weight="bold" text-anchor="middle" fill="#fff">J</text><text x="483 503.6 524.2" y="486.29" font-size="20.5" font-weight="bold" fill="#22303b">播但線</text>
<rect x="39.5" y="46.0" width="53" height="36" rx="13" fill="#e8413b" filter="url(#b3)"/><rect x="48.5" y="57.3" width="35" height="13.4" rx="6.7" fill="#000" stroke="#fff" stroke-width="1.6"/>
<rect x="413.0" y="46.0" width="53" height="36" rx="13" fill="#f3bd14" filter="url(#b3)"/><rect x="422.0" y="57.3" width="35" height="13.4" rx="6.7" fill="#000" stroke="#fff" stroke-width="1.6"/>
<g fill="#000" font-weight="bold">
<text x="119.15 149.12 181.41 209.35 237.89 270.69 301.47 333.45" y="77.2" font-size="31.7">止まっている区間</text>
<text x="492.22 524.2 557.65 585.99 618.99 650.17 681.85" y="77.2" font-size="31.7">遅れている区間</text>
<text x="714.05 736.23" y="76.9" font-size="22">など</text>
</g>
</svg></body></html>
